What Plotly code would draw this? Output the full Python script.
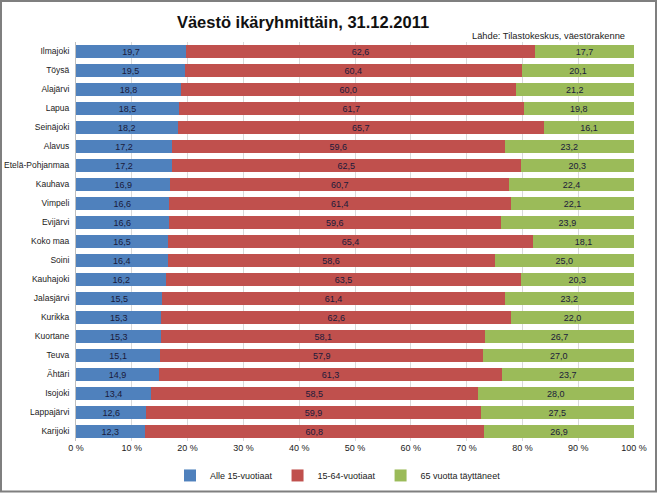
import plotly.graph_objects as go

categories = ["Ilmajoki", "Töysä", "Alajärvi", "Lapua", "Seinäjoki", "Alavus",
              "Etelä-Pohjanmaa", "Kauhava", "Vimpeli", "Evijärvi", "Koko maa",
              "Soini", "Kauhajoki", "Jalasjärvi", "Kurikka", "Kuortane", "Teuva",
              "Ähtäri", "Isojoki", "Lappajärvi", "Karijoki"]
alle15 = [19.7, 19.5, 18.8, 18.5, 18.2, 17.2, 17.2, 16.9, 16.6, 16.6, 16.5,
          16.4, 16.2, 15.5, 15.3, 15.3, 15.1, 14.9, 13.4, 12.6, 12.3]
tyoika = [62.6, 60.4, 60.0, 61.7, 65.7, 59.6, 62.5, 60.7, 61.4, 59.6, 65.4,
          58.6, 63.5, 61.4, 62.6, 58.1, 57.9, 61.3, 58.5, 59.9, 60.8]
yli65 = [17.7, 20.1, 21.2, 19.8, 16.1, 23.2, 20.3, 22.4, 22.1, 23.9, 18.1,
         25.0, 20.3, 23.2, 22.0, 26.7, 27.0, 23.7, 28.0, 27.5, 26.9]
series_names = ["Alle 15-vuotiaat", "15-64-vuotiaat", "65 vuotta täyttäneet"]
colors = ["#4F81BD", "#C0504D", "#9BBB59"]
tick_vals = [0, 10, 20, 30, 40, 50, 60, 70, 80, 90, 100]
tick_text = [f"{v} %" for v in tick_vals]

FONT = "Liberation Sans, Arial, sans-serif"

fig = go.Figure()
for name, vals, col in zip(series_names, [alle15, tyoika, yli65], colors):
    fig.add_trace(go.Bar(
        y=categories, x=vals, name=name, orientation="h",
        marker=dict(color=col, line=dict(width=0)),
        text=[f"{v:.1f}".replace(".", ",") for v in vals],
        textposition="inside", insidetextanchor="middle", constraintext="none",
        textangle=0,
        textfont=dict(color="#1a1a3a", size=9, family=FONT),
        width=0.64,
    ))

L, R, T, B = 76, 634, 42, 441.5
W, H = 657, 493
pw, ph = R - L, B - T
def px(x): return (x - L) / pw
def py(y): return 1 - (y - T) / ph

fig.update_layout(
    barmode="stack", barnorm="percent",
    width=W, height=H,
    margin=dict(l=L, r=W - R, t=T, b=H - B, autoexpand=False),
    paper_bgcolor="white", plot_bgcolor="white",
    font=dict(family=FONT, size=9, color="#222"),
    title=dict(text="<b>Väestö ikäryhmittäin, 31.12.2011</b>", x=(176 + 430) / 2 / W,
               xanchor="center", y=1 - 22 / H, yanchor="middle",
               font=dict(size=16.5, color="#111")),
    showlegend=True,
    legend=dict(orientation="h", x=px(170), xanchor="left", y=py(476), yanchor="middle",
                font=dict(size=9), traceorder="normal", itemwidth=30,
                bgcolor="rgba(0,0,0,0)"),
    xaxis=dict(range=[0, 100], tickvals=tick_vals, ticktext=tick_text,
               showgrid=True, gridcolor="#d9d9d9", gridwidth=1, zeroline=False,
               showline=False, tickfont=dict(size=9), automargin=False, ticklen=4,
               ticks="", fixedrange=True),
    yaxis=dict(autorange="reversed", showgrid=False, showline=True, linecolor="#bfbfbf",
               ticks="outside", ticklen=4, tickcolor="white",
               tickfont=dict(size=8.5), automargin=False, fixedrange=True),
    annotations=[dict(text="Lähde: Tilastokeskus, väestörakenne", xref="paper", yref="paper",
                      x=px(627), y=py(36), xanchor="right", yanchor="middle",
                      showarrow=False, font=dict(size=9.3, color="#222"))],
    shapes=[dict(type="rect", xref="paper", yref="paper",
                 x0=px(1), x1=px(656), y0=py(1), y1=py(492),
                 line=dict(color="#7f7f7f", width=2), layer="above")],
)

fig.write_html("out.html", config={"displayModeBar": False},
               post_script="document.body.style.margin='0';document.body.style.overflow='hidden';")
